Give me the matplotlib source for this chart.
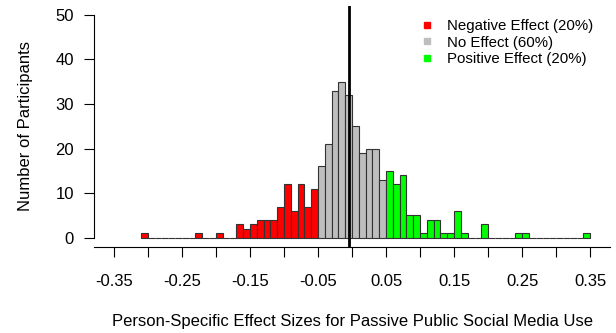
import numpy as np
import matplotlib
matplotlib.use("Agg")
import matplotlib.pyplot as plt
from matplotlib.lines import Line2D

plt.rcParams['font.family'] = ['Liberation Sans', 'DejaVu Sans']

# histogram bins (left edges, width 0.01) and counts
bin_width = 0.01
bin_left = np.round(np.arange(-0.31, 0.345, bin_width), 2)
counts = [1, 0, 0, 0, 0, 0, 0, 0, 1, 0, 0, 1, 0, 0,
          3, 2, 3, 4, 4, 4, 7, 12, 6, 12, 7, 11,
          16, 21, 33, 35, 32, 25, 19, 20, 20, 13,
          15, 12, 14, 5, 5, 1, 4, 4, 1, 1, 6, 1, 0, 0, 3, 0, 0, 0, 0, 1, 1,
          0, 0, 0, 0, 0, 0, 0, 0, 1]

# group cut-offs (effect size) and styling
lower_cut = -0.05
upper_cut = 0.05
vline_x = -0.005
group_labels = ["Negative Effect (20%)", "No Effect (60%)", "Positive Effect (20%)"]
group_colors = ["#FF0000", "#BEBEBE", "#00FF00"]

colors = []
for b in bin_left:
    if b < lower_cut - 1e-9:
        colors.append(group_colors[0])
    elif b < upper_cut - 1e-9:
        colors.append(group_colors[1])
    else:
        colors.append(group_colors[2])

fig = plt.figure(figsize=(6.16, 3.33), dpi=100)
ax = fig.add_axes([94 / 616, (333 - 246.6) / 333, (610 - 94) / 616, (246.6 - 6) / 333])

ax.bar(bin_left, counts, width=bin_width, align='edge', color=colors,
       edgecolor='#333333', linewidth=0.8)
ax.axvline(vline_x, color='black', linewidth=2)

ax.set_xlim(-0.379, 0.379)
ax.set_ylim(-2, 52)

# R-style axes
for s in ['top', 'right']:
    ax.spines[s].set_visible(False)
ax.spines['left'].set_bounds(0, 50)
ax.spines['left'].set_linewidth(0.8)
ax.spines['bottom'].set_linewidth(0.8)

xt = np.round(np.arange(-0.35, 0.351, 0.05), 2)
ax.set_xticks(xt)
ax.set_xticklabels([("%.2f" % v) if i % 2 == 0 else "" for i, v in enumerate(xt)])
ax.set_yticks([0, 10, 20, 30, 40, 50])
ax.tick_params(axis='x', length=7, width=0.8, pad=13, labelsize=12)
ax.tick_params(axis='y', length=7, width=0.8, pad=7.5, labelsize=12)

ax.set_ylabel("Number of Participants", fontsize=12, labelpad=16)
ax.set_xlabel("Person-Specific Effect Sizes for Passive Public Social Media Use",
              fontsize=12, labelpad=18)

handles = [Line2D([], [], linestyle='none', marker='s', markersize=4.5,
                  markerfacecolor=c, markeredgecolor=c) for c in group_colors]
ax.legend(handles, group_labels, loc='upper left', bbox_to_anchor=(415 / 616, 1 - 13 / 333),
          bbox_transform=fig.transFigure, frameon=False, fontsize=10.8,
          handlelength=0.8, handletextpad=0.95, labelspacing=0.17, borderaxespad=0)

fig.savefig("out.png", dpi=100)
